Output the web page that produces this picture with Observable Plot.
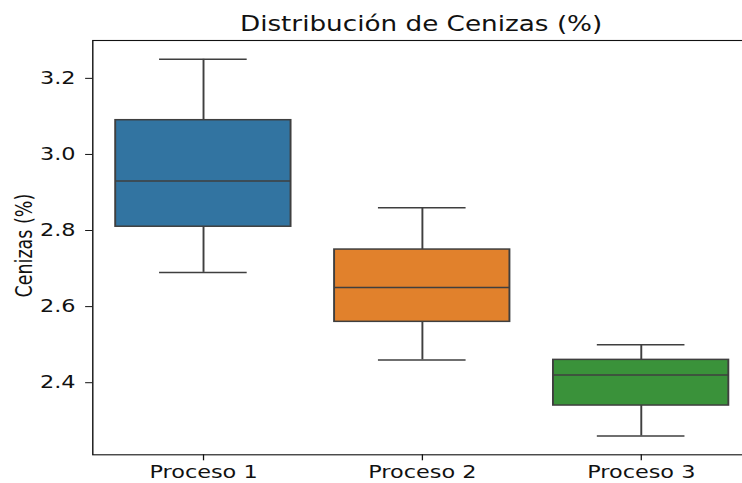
<!DOCTYPE html>
<html>
<head>
<meta charset="utf-8">
<script src="https://cdn.jsdelivr.net/npm/d3@7"></script>
<script src="https://cdn.jsdelivr.net/npm/@observablehq/plot@0.6"></script>
<style>
  html, body { margin: 0; padding: 0; background: #fff; overflow: hidden; }
  #wrap { width: 586px; transform: scaleX(1.28); transform-origin: 0 0; font-family: "DejaVu Sans", sans-serif; }
  #title { box-sizing: border-box; height: 36px; padding: 12px 0 0 72px; line-height: 24px; font-size: 20.5px; text-align: center; color: #111; white-space: nowrap; }
</style>
</head>
<body>
<div id="wrap">
  <div id="title">Distribución de Cenizas (%)</div>
  <div id="chart"></div>
</div>
<script>
// Categories
const procesos = ["Proceso 1", "Proceso 2", "Proceso 3"];
// Box statistics
const minimo  = [2.69, 2.46, 2.26];
const q1      = [2.81, 2.56, 2.34];
const mediana = [2.93, 2.65, 2.42];
const q3      = [3.09, 2.75, 2.46];
const maximo  = [3.25, 2.86, 2.50];
// Colours
const colores = ["#3274a1", "#e1812c", "#3a923a"];
// Tick labels
const yTicks = [2.4, 2.6, 2.8, 3.0, 3.2];
const yLabel = "Cenizas (%)";

const data = procesos.map((p, i) => ({
  proceso: p, min: minimo[i], q1: q1[i], median: mediana[i], q3: q3[i], max: maximo[i]
}));

const W = 586, H = 447, ML = 72, MR = 0, MT = 4, MB = 28.7;
const bandwidth = (W - ML - MR) / procesos.length * 0.8;
const capInset = bandwidth / 4;
const yPad = (d3.max(maximo) - d3.min(minimo)) * 0.05;
const edge = "#3f3f3f";
const lw = 1.5;

const chart = Plot.plot({
  width: W, height: H,
  marginLeft: ML, marginRight: MR, marginTop: MT, marginBottom: MB,
  style: { fontFamily: "DejaVu Sans, sans-serif", fontSize: "17.5px", color: "#111", background: "white", overflow: "visible" },
  x: { type: "band", domain: procesos, paddingInner: 0.2, paddingOuter: 0.1, axis: null },
  y: { domain: [d3.min(minimo) - yPad, d3.max(maximo) + yPad], axis: null },
  color: { type: "ordinal", domain: procesos, range: colores },
  marks: [
    Plot.ruleX(data, { x: "proceso", y1: "min", y2: "q1", stroke: edge, strokeWidth: lw }),
    Plot.ruleX(data, { x: "proceso", y1: "q3", y2: "max", stroke: edge, strokeWidth: lw }),
    Plot.tickY(data, { x: "proceso", y: "min", stroke: edge, strokeWidth: lw, insetLeft: capInset, insetRight: capInset }),
    Plot.tickY(data, { x: "proceso", y: "max", stroke: edge, strokeWidth: lw, insetLeft: capInset, insetRight: capInset }),
    Plot.barY(data, { x: "proceso", y1: "q1", y2: "q3", fill: "proceso", stroke: edge, strokeWidth: lw }),
    Plot.tickY(data, { x: "proceso", y: "median", stroke: edge, strokeWidth: lw }),
    Plot.frame({ stroke: "#111", strokeWidth: 1.1 }),
    Plot.axisX({ tickSize: 6, tickPadding: 4.5, label: null, fontSize: 17.5, stroke: "#111" }),
    Plot.axisY({ ticks: yTicks, tickFormat: d3.format(".1f"), tickSize: 5.5, tickPadding: 8, label: null, fontSize: 17.5, stroke: "#111" }),
    Plot.text([yLabel], { frameAnchor: "left", text: d => d, rotate: -90, textAnchor: "middle", dx: -53.3, dy: -2, lineAnchor: "middle", fontSize: 17.5, fill: "#111" })
  ]
});
document.getElementById("chart").appendChild(chart);
</script>
</body>
</html>
